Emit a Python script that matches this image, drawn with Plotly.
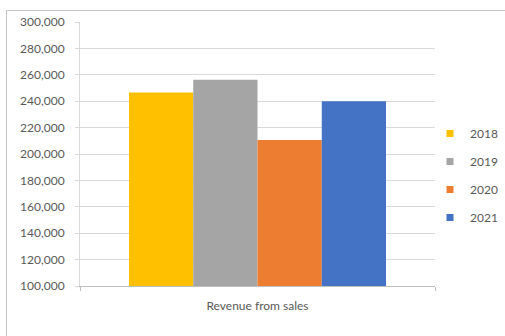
import plotly.graph_objects as go

categories = ["Revenue from sales"]
years = ["2018", "2019", "2020", "2021"]
revenue_2018 = [246500]
revenue_2019 = [256300]
revenue_2020 = [210700]
revenue_2021 = [239900]
series_values = [revenue_2018, revenue_2019, revenue_2020, revenue_2021]
colors = ["#FFC000", "#A5A5A5", "#ED7D31", "#4472C4"]

FONT = "Lato, Calibri, Carlito, sans-serif"
TXT = "#595959"

fig = go.Figure()
for name, vals, col in zip(years, series_values, colors):
    fig.add_trace(go.Bar(x=categories, y=vals, name=name, marker=dict(color=col, line=dict(width=0)),
                         showlegend=False))
for name, col in zip(years, colors):
    fig.add_trace(go.Scatter(x=[None], y=[None], mode="markers", name=name, legendgroup=name,
                             marker=dict(symbol="square", size=7, color=col)))

W, H = 505, 336
ml, mr, mt, mb = 80, 70, 22, 50
pw, ph = W - ml - mr, H - mt - mb

def px_x(x):
    return (x - ml) / pw

def px_y(y):
    return 1 - (y - mt) / ph

fig.update_layout(
    width=W, height=H,
    margin=dict(l=ml, r=mr, t=mt, b=mb, autoexpand=False),
    paper_bgcolor="white", plot_bgcolor="white",
    font=dict(family=FONT, size=12, color=TXT),
    barmode="group", bargap=0.276, bargroupgap=0,
    showlegend=True,
    legend=dict(x=430 / W, xref="container", xanchor="left", y=1 - 119 / H, yref="container",
                yanchor="top",
                font=dict(family=FONT, size=12, color=TXT), tracegroupgap=9,
                bgcolor="rgba(0,0,0,0)", itemclick=False),
    xaxis=dict(type="category", showgrid=False, showline=True, linecolor="#BFBFBF", linewidth=1,
               ticks="outside", tickson="boundaries", ticklen=4, tickcolor="#BFBFBF",
               tickfont=dict(family=FONT, size=12, color=TXT), ticklabelstandoff=9,
               range=[-0.5, 0.5], fixedrange=True, automargin=False),
    yaxis=dict(range=[100000, 300000], dtick=20000, tickformat=",", showgrid=True,
               gridcolor="#D9D9D9", gridwidth=1, showline=True, linecolor="#D9D9D9", linewidth=1,
               ticks="outside", ticklen=4, tickcolor="#D9D9D9",
               tickfont=dict(family=FONT, size=12, color=TXT), ticklabelstandoff=8,
               zeroline=False, fixedrange=True, automargin=False),
    shapes=[dict(type="rect", xref="paper", yref="paper", x0=px_x(6.5), x1=px_x(520),
                 y0=px_y(350), y1=px_y(10.5), line=dict(color="#C4C4C4", width=1),
                 fillcolor="rgba(0,0,0,0)", layer="above")],
)

fig.write_html("out.html", config={"displayModeBar": False},
               post_script="document.body.style.margin='0';")
